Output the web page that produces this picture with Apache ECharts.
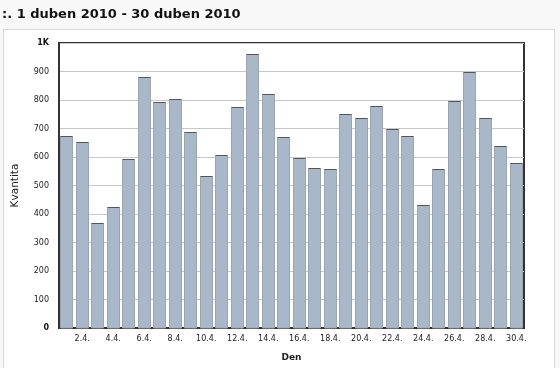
<!DOCTYPE html>
<html>
<head>
<meta charset="utf-8">
<script src="https://cdn.jsdelivr.net/npm/echarts@6/dist/echarts.min.js"></script>
<style>
html,body{margin:0;padding:0;background:#f8f8f8;}
#c{width:560px;height:368px;}
</style>
</head>
<body>
<div id="c"></div>
<script>
const titleText = ':. 1 duben 2010 - 30 duben 2010';
const days = ['1.4.','2.4.','3.4.','4.4.','5.4.','6.4.','7.4.','8.4.','9.4.','10.4.','11.4.','12.4.','13.4.','14.4.','15.4.','16.4.','17.4.','18.4.','19.4.','20.4.','21.4.','22.4.','23.4.','24.4.','25.4.','26.4.','27.4.','28.4.','29.4.','30.4.'];
const quantity = [673,651,369,426,593,882,792,802,687,532,607,776,960,822,669,597,560,557,752,738,779,698,673,433,559,798,899,737,638,579];
const yAxisName = 'Kvantita';
const xAxisName = 'Den';

const chart = echarts.init(document.getElementById('c'), null, {renderer:'canvas'});
const font = 'DejaVu Sans, Verdana, sans-serif';
chart.setOption({
  animation:false,
  backgroundColor:'transparent',
  graphic:[
    {type:'rect', shape:{x:3.5,y:29.5,width:551,height:345}, style:{fill:'#ffffff', stroke:'#d8d8d8', lineWidth:1}, z:-10}
  ],
  title:{text:titleText, left:2, top:8, padding:0, textStyle:{fontFamily:font, fontSize:13, fontWeight:'bold', color:'#111'}},
  grid:{left:59, right:36, top:43, bottom:40, show:true, borderColor:'#333', borderWidth:2},
  xAxis:{
    type:'category', data:days,
    name:xAxisName, nameLocation:'middle', nameGap:25,
    nameTextStyle:{fontFamily:font, fontSize:9, fontWeight:'bold', color:'#222'},
    axisLine:{lineStyle:{color:'#333', width:2}},
    axisTick:{show:false},
    axisLabel:{interval:function(i){return i%2===1;}, fontFamily:font, fontSize:8, color:'#222', margin:7}
  },
  yAxis:{
    type:'value', min:0, max:1000, interval:100,
    name:yAxisName, nameLocation:'middle', nameGap:38,
    nameTextStyle:{fontFamily:font, fontSize:10.5, color:'#222'},
    axisLine:{show:true, lineStyle:{color:'#333', width:2}},
    axisTick:{show:false},
    splitLine:{lineStyle:{color:'#c8c8c8', width:1}},
    axisLabel:{fontFamily:font, fontSize:8, color:'#222', margin:10,
      formatter:function(v){ if(v===1000) return '{b|1K}'; if(v===0) return '{b|0}'; return v; },
      rich:{b:{fontFamily:font, fontSize:8, fontWeight:'bold', color:'#111'}}
    }
  },
  series:[{
    type:'custom', data:quantity.map(function(v,i){return [i,v];}),
    encode:{x:0, y:1},
    renderItem:function(params, api){
      var top = api.coord([api.value(0), api.value(1)]);
      var base = api.coord([api.value(0), 0]);
      var w = api.size([1,0])[0]*0.84;
      var x0 = Math.round(top[0]-w/2)+0.5;
      var wr = Math.round(w)-1;
      var y0 = Math.round(top[1])+0.5;
      return {type:'group', children:[
        {type:'rect', shape:{x:x0, y:y0, width:wr, height:base[1]-y0}, style:{fill:'#a9b8c8', stroke:'#98a5b3', lineWidth:1}},
        {type:'line', shape:{x1:x0, y1:y0, x2:x0+wr, y2:y0}, style:{stroke:'#555', lineWidth:1}}
      ]};
    }
  }]
});
</script>
</body>
</html>
